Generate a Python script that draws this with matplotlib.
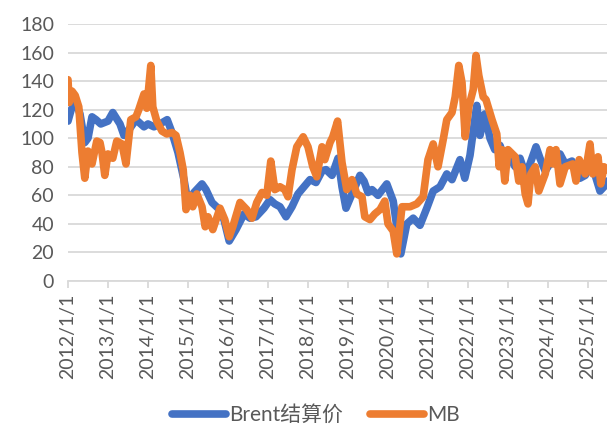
import matplotlib
matplotlib.use("Agg")
import matplotlib.pyplot as plt

plt.rcParams['font.family'] = ['Lato', 'Noto Sans CJK SC', 'DejaVu Sans']

# data (decimal year, value)
brent_t = [2012.0, 2012.08, 2012.2, 2012.3, 2012.42, 2012.5, 2012.6, 2012.7, 2012.82,
           2013.0, 2013.12, 2013.3, 2013.4, 2013.55, 2013.7, 2013.9,
           2014.0, 2014.15, 2014.3, 2014.48, 2014.6, 2014.75, 2014.9,
           2015.0, 2015.15, 2015.35, 2015.45, 2015.6, 2015.75, 2015.9,
           2016.03, 2016.2, 2016.4, 2016.55, 2016.7, 2016.9,
           2017.05, 2017.17, 2017.3, 2017.45, 2017.6, 2017.75, 2017.9,
           2018.05, 2018.2, 2018.35, 2018.45, 2018.6, 2018.75, 2018.85, 2018.95,
           2019.1, 2019.3, 2019.4, 2019.5, 2019.6, 2019.75, 2019.97,
           2020.13, 2020.22, 2020.32, 2020.47, 2020.63, 2020.8, 2020.97,
           2021.13, 2021.3, 2021.47, 2021.6, 2021.8, 2021.92,
           2022.05, 2022.17, 2022.22, 2022.3, 2022.42, 2022.55, 2022.67, 2022.8, 2022.93,
           2023.05, 2023.18, 2023.3, 2023.43, 2023.55, 2023.7, 2023.8, 2023.93,
           2024.18, 2024.3, 2024.43, 2024.6, 2024.68, 2024.8, 2024.93,
           2025.05, 2025.18, 2025.3, 2025.4, 2025.48]
brent_v = [112, 120, 125, 117, 97, 100, 115, 113, 110,
           112, 118, 110, 102, 107, 113, 108,
           110, 108, 110, 113, 104, 90, 71,
           55, 62, 68, 64, 55, 51, 43,
           28, 36, 47, 44, 45, 51,
           57, 54, 52, 45, 52, 61, 66,
           71, 69, 77, 78, 74, 86, 66, 51,
           61, 74, 70, 62, 64, 60, 68,
           56, 38, 19, 40, 44, 39, 51,
           63, 66, 75, 71, 85, 72,
           88, 113, 123, 102, 117, 100, 92, 95, 84,
           86, 80, 86, 75, 82, 94, 86, 77,
           88, 89, 82, 84, 78, 72, 74,
           80, 74, 63, 66, 70]

mb_t = [2012.0, 2012.03, 2012.1, 2012.18, 2012.27, 2012.35, 2012.42, 2012.5, 2012.6, 2012.72,
        2012.8, 2012.85, 2012.92, 2013.0, 2013.12, 2013.22, 2013.35, 2013.45, 2013.57, 2013.7,
        2013.77, 2013.9, 2013.97, 2014.07, 2014.12, 2014.22, 2014.35, 2014.47, 2014.6, 2014.7,
        2014.8, 2014.88, 2014.95, 2015.05, 2015.12, 2015.22, 2015.35, 2015.43, 2015.5, 2015.62,
        2015.8, 2015.92, 2016.03, 2016.12, 2016.3, 2016.47, 2016.6, 2016.72, 2016.85, 2016.97,
        2017.07, 2017.17, 2017.3, 2017.42, 2017.5, 2017.6, 2017.72, 2017.88, 2018.0, 2018.12,
        2018.22, 2018.35, 2018.42, 2018.55, 2018.62, 2018.74, 2018.85, 2018.97, 2019.1, 2019.22,
        2019.35, 2019.42, 2019.55, 2019.67, 2019.8, 2019.92, 2020.0, 2020.13, 2020.22, 2020.35,
        2020.55, 2020.72, 2020.88, 2021.0, 2021.13, 2021.25, 2021.38, 2021.47, 2021.6, 2021.68,
        2021.77, 2021.85, 2021.93, 2022.02, 2022.13, 2022.2, 2022.27, 2022.38, 2022.45, 2022.6,
        2022.72, 2022.78, 2022.85, 2022.92, 2023.0, 2023.18, 2023.27, 2023.35, 2023.43, 2023.5,
        2023.57, 2023.68, 2023.77, 2023.93, 2024.05, 2024.12, 2024.2, 2024.3, 2024.43, 2024.62,
        2024.7, 2024.78, 2024.93, 2025.05, 2025.12, 2025.25, 2025.32, 2025.4, 2025.48]
mb_v = [141, 125, 133, 130, 122, 90, 72, 91, 82, 98,
        97, 90, 74, 89, 86, 98, 96, 82, 113, 115,
        120, 131, 121, 151, 122, 112, 105, 103, 104, 102,
        90, 78, 50, 60, 52, 61, 52, 38, 45, 36,
        51, 43, 31, 38, 55, 50, 44, 55, 62, 60,
        84, 64, 66, 64, 59, 78, 94, 101, 94, 80,
        73, 94, 85, 97, 101, 112, 83, 64, 71, 61,
        59, 45, 43, 47, 50, 56, 40, 35, 19, 52,
        52, 54, 59, 85, 96, 80, 99, 113, 118, 129,
        151, 139, 101, 122, 134, 158, 144, 129, 127, 113,
        103, 80, 92, 70, 92, 87, 70, 80, 61, 54,
        75, 80, 63, 75, 92, 82, 92, 68, 80, 82,
        70, 85, 75, 96, 75, 87, 68, 80, 78]

years = list(range(2012, 2026))
year_labels = [f"{y}/1/1" for y in years]

fig = plt.figure(figsize=(6.07, 4.37), dpi=100)
ax = fig.add_axes([0.112, 0.357, 0.888, 0.588])

ax.plot(brent_t, brent_v, color='#4472C4', lw=5.5, solid_joinstyle='round',
        solid_capstyle='round', label='Brent结算价')
ax.plot(mb_t, mb_v, color='#ED7D31', lw=5.5, solid_joinstyle='round',
        solid_capstyle='round', label='MB')

ax.set_ylim(0, 180)
ax.set_yticks(range(0, 181, 20))
ax.set_xlim(2012, 2025.475)
ax.set_xticks(years)
ax.set_xticklabels(year_labels, rotation=90)

ax.grid(axis='y', color='#D9D9D9', lw=1.3)
ax.set_axisbelow(True)
for s in ['top', 'right', 'left']:
    ax.spines[s].set_visible(False)
ax.spines['bottom'].set_color('#D9D9D9')
ax.spines['bottom'].set_linewidth(1.3)
ax.tick_params(axis='y', length=0, labelsize=14, labelcolor='#595959', pad=10)
ax.tick_params(axis='x', length=5, width=1.3, color='#D9D9D9', labelsize=14,
               labelcolor='#595959', pad=4)

fig.legend(loc='lower center', bbox_to_anchor=(0.52, -0.015), ncol=2, frameon=False,
           prop={'size': 15}, labelcolor='#595959', handlelength=2.6, columnspacing=1.3,
           handletextpad=0.15)

fig.savefig('out.png', dpi=100)
